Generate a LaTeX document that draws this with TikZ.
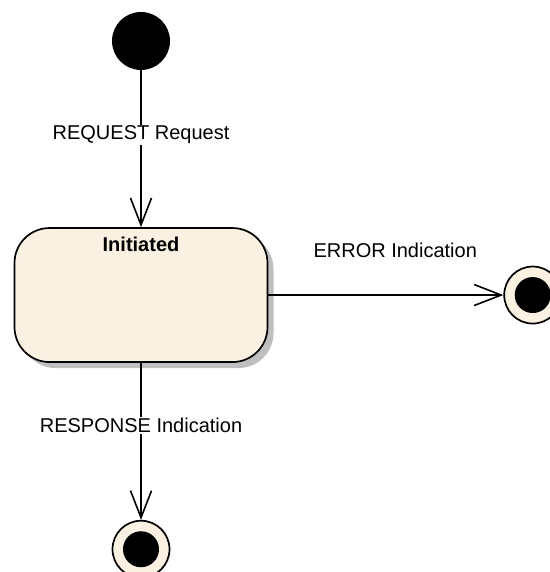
\documentclass[tikz,border=0pt]{standalone}
\usepackage{fontspec}
\setmainfont{Liberation Sans}
\usetikzlibrary{positioning,arrows.meta,shadows}

\definecolor{stateFill}{RGB}{251,241,227}

\tikzset{
  start/.style={circle, fill=black, minimum size=58pt, inner sep=0pt},
  state/.style={draw, line width=1.7pt, rounded corners=35pt, fill=stateFill,
    minimum width=253pt, minimum height=134pt,
    drop shadow={shadow xshift=6pt, shadow yshift=-6pt, fill=black!25, opacity=1}},
  final/.style={circle, draw, line width=1.7pt, fill=stateFill, minimum size=57pt, inner sep=0pt,
    path picture={\fill[black] (path picture bounding box.center) circle (18pt);}},
  trans/.style={line width=1.6pt, -{Straight Barb[length=27pt, width=21pt, line width=1.6pt]}},
  lbl/.style={fill=white, inner sep=1pt}
}

\begin{document}
\begin{tikzpicture}[font=\fontsize{20}{24}\selectfont]
      \useasboundingbox (0,0) rectangle (549pt,572pt);
      % Define nodes
      \node[start]                       (begin)     at (141pt,531pt) {};
      \node[state, below=157pt of begin] (initiated) {};
      \node[anchor=north, inner sep=0pt, font=\fontsize{20}{24}\selectfont\bfseries]
        (initTitle) at ([yshift=-10pt]initiated.north) {Initiated};
      \node[final, right=235pt of initiated]  (errEnd)  {};
      \node[final, below=157pt of initiated]  (respEnd) {};
      % Connect nodes
      \draw[trans] (begin) -- node[lbl, pos=0.41] (reqLbl) {REQUEST Request} (initiated);
      \draw[trans] (initiated) -- node[pos=0.54, above=37pt, inner sep=0pt] (errLbl) {ERROR Indication} (errEnd);
      \draw[trans] (initiated) -- node[lbl, pos=0.40] (respLbl) {RESPONSE Indication} (respEnd);
    \end{tikzpicture}
\end{document}
